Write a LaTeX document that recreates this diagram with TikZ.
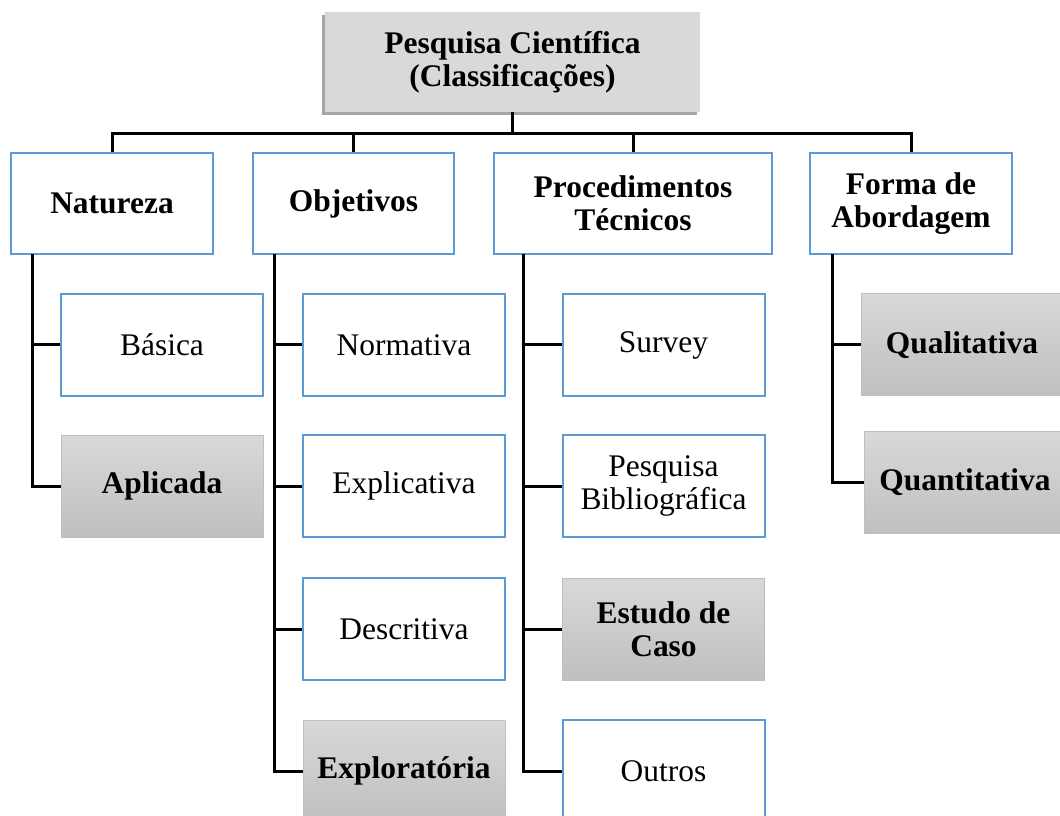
\documentclass[tikz,border=0pt]{standalone}
\usepackage{fontspec}
\setmainfont{Liberation Serif}
\usetikzlibrary{shadows}
\definecolor{boxblue}{RGB}{91,155,213}
\definecolor{topgray}{RGB}{217,217,217}
\newcommand{\boxfont}{\fontsize{23.6}{24.75}\selectfont}

\begin{document}
\begin{tikzpicture}
[x=.75pt,y=-.75pt,
 every node/.style={align=center,inner sep=0pt,font=\boxfont},
 head/.style={fill=topgray,minimum width=281.25pt,minimum height=75pt,font=\boxfont\bfseries,
   drop shadow={shadow xshift=-2pt,shadow yshift=-2pt,fill=black,opacity=.35}},
 cat/.style={draw=boxblue,line width=1.5pt,fill=white,minimum height=75.75pt,font=\boxfont\bfseries},
 item/.style={draw=boxblue,line width=1.5pt,fill=white,minimum width=151.5pt,minimum height=76.5pt},
 itemg/.style={draw=gray!50,line width=.75pt,top color=gray!30,bottom color=gray!50,
   minimum width=151.5pt,minimum height=76.5pt,font=\boxfont\bfseries},
 link/.style={line width=2.25pt}]
\useasboundingbox (0,0) rectangle (1060,816);

\node[head] (v1) at (512.5,62) {Pesquisa Científica\\(Classificações)};

\node[cat,minimum width=151.5pt] (v2) at (112,203.5) {Natureza};
\node[cat,minimum width=150.75pt] (v3) at (353.5,203.5) {Objetivos};
\node[cat,minimum width=208.5pt] (v4) at (633,203.5) {Procedimentos\\Técnicos};
\node[cat,minimum width=151.5pt] (v5) at (911,203.5) {Forma de\\Abordagem};

\node[item] (v6) at (162,345) {Básica};
\node[itemg] (v7) at (162,486) {Aplicada};

\node[item] (v8) at (404,345) {Normativa};
\node[item] (v9) at (404,486) {Explicativa};
\node[item] (v10) at (404,629) {Descritiva};
\node[itemg] (v11) at (404,771) {Exploratória};

\node[item] (v12) at (663.5,345) {Survey};
\node[item] (v13) at (663.5,486) {Pesquisa\\Bibliográfica};
\node[itemg] (v14) at (663.5,629) {Estudo de\\Caso};
\node[item] (v15) at (663.5,771) {Outros};

\node[itemg] (v16) at (962,345) {Qualitativa};
\node[itemg] (v17) at (965,482.5) {Quantitativa};

\coordinate (c1) at (32,254);
\coordinate (c2) at (274,254);
\coordinate (c3) at (523,254);
\coordinate (c4) at (832,254);

\foreach \to in {v2,v3,v4,v5}
\draw[link] (v1.south) -- ++(0,21) -| (\to.north);

\foreach \from/\to in {c1/v6,c1/v7,c2/v8,c2/v9,c2/v10,c2/v11,c3/v12,c3/v13,c3/v14,c3/v15,c4/v16,c4/v17}
\draw[link] (\from) |- (\to.west);
\end{tikzpicture}
\end{document}
